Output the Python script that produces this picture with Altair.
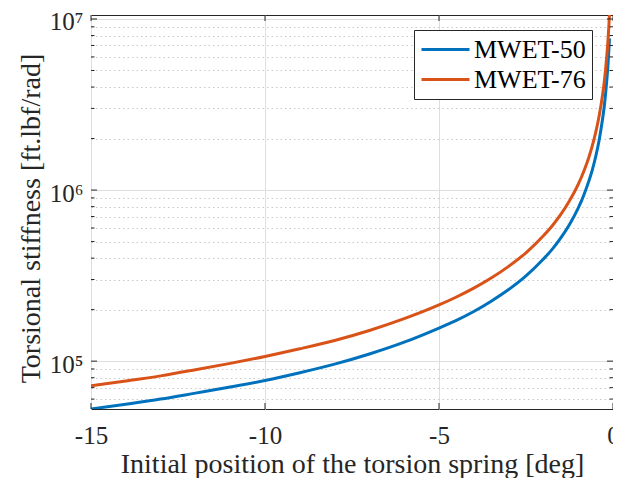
import altair as alt
import pandas as pd

# ---- data ----
theta_50 = [-15, -14, -13, -12, -11, -10, -9, -8, -7, -6, -5, -4.5, -4, -3.5, -3, -2.5,
            -2, -1.75, -1.5, -1.25, -1, -0.9, -0.8, -0.7, -0.6, -0.5, -0.4, -0.3,
            -0.25, -0.2, -0.15, -0.12, -0.1]
k_50 = [52500, 56000, 60000, 65000, 70500, 77000, 85500, 96000, 110000, 129000, 156000,
        173000, 195000, 224000, 262000, 315000, 395000, 450000, 525000, 630000, 785000,
        870000, 980000, 1.12e6, 1.30e6, 1.56e6, 1.95e6, 2.6e6, 3.1e6, 3.9e6, 5.2e6,
        6.5e6, 7.7e6]

theta_76 = [-15, -14, -13, -12, -11, -10, -9, -8, -7, -6, -5, -4.5, -4, -3.5, -3, -2.5,
            -2, -1.75, -1.5, -1.25, -1, -0.9, -0.8, -0.7, -0.6, -0.5, -0.4, -0.3,
            -0.25, -0.2, -0.15, -0.12, -0.1, -0.08]
k_76 = [71700, 76500, 82000, 89000, 97000, 106500, 118000, 132000, 151000, 177000, 213000,
        237000, 267000, 306000, 358000, 430000, 540000, 617000, 720000, 865000, 1.08e6,
        1.2e6, 1.35e6, 1.54e6, 1.8e6, 2.16e6, 2.7e6, 3.6e6, 4.3e6, 5.4e6, 7.2e6, 9.0e6,
        1.08e7, 1.35e7]

series_names = ["MWET-50", "MWET-76"]
series_colors = ["#0072BD", "#D95319"]

x_ticks = [-15, -10, -5, 0]
y_major = [1e5, 1e6, 1e7]
y_minor = [6e4, 7e4, 8e4, 9e4,
           2e5, 3e5, 4e5, 5e5, 6e5, 7e5, 8e5, 9e5,
           2e6, 3e6, 4e6, 5e6, 6e6, 7e6, 8e6, 9e6]

x_domain = [-15, 0]
y_domain = [52500, 1.055e7]

W, H = 522, 394
FONT = "Liberation Serif"
INK = "#262626"

df = pd.concat([
    pd.DataFrame({"theta": theta_50, "k": k_50, "series": series_names[0]}),
    pd.DataFrame({"theta": theta_76, "k": k_76, "series": series_names[1]}),
])

xscale = alt.Scale(domain=x_domain, nice=False, zero=False)
yscale = alt.Scale(type="log", domain=y_domain, nice=False)

major_test = "indexof([100000, 1000000, 10000000], datum.value) >= 0"

x_axis = alt.Axis(values=x_ticks, labelExpr="datum.value + ''",
                  title="Initial position of the torsion spring [deg]",
                  grid=True, gridColor="#dedede", gridWidth=1,
                  ticks=False, tickSize=0, domain=False,
                  labelFont=FONT, labelFontSize=25, labelColor=INK,
                  labelFlush=False, labelOverlap=False,
                  labelBaseline="alphabetic", labelPadding=34,
                  titleFont=FONT, titleFontSize=28, titleColor=INK,
                  titleFontWeight="normal", titleBaseline="alphabetic",
                  titleY=63)
y_axis = alt.Axis(values=y_major + y_minor,
                  labelExpr="datum.value == 100000 ? '10\u2075' : datum.value == 1000000 ? '10\u2076' : datum.value == 10000000 ? '10\u2077' : ''",
                  title="Torsional stiffness [ft.lbf/rad]",
                  grid=True,
                  gridColor={"condition": {"test": major_test, "value": "#dedede"}, "value": "#c9c9c9"},
                  gridDash={"condition": {"test": major_test, "value": []}, "value": [1.5, 3]},
                  ticks=False, tickSize=0, domain=False,
                  labelFont=FONT, labelFontSize=25, labelColor=INK,
                  labelFlush=False,
                  labelPadding=8, labelBaseline="middle", labelOffset=3,
                  titleFont=FONT, titleFontSize=28, titleColor=INK,
                  titleFontWeight="normal", titleBaseline="alphabetic",
                  titleX=-52, titleY=203)

lines = alt.Chart(df).mark_line(strokeWidth=3, clip=True, interpolate="monotone").encode(
    x=alt.X("theta:Q", scale=xscale, axis=x_axis),
    y=alt.Y("k:Q", scale=yscale, axis=y_axis),
    color=alt.Color("series:N",
                    scale=alt.Scale(domain=series_names, range=series_colors),
                    legend=alt.Legend(title=None, orient="none", legendX=323, legendY=15,
                                      strokeColor=INK, fillColor="white", padding=6,
                                      symbolType="M-2,0L2,0", symbolSize=576,
                                      symbolStrokeWidth=3, symbolOffset=12,
                                      labelOffset=15, rowPadding=3,
                                      labelFont=FONT, labelFontSize=26, labelColor="black")),
)

ymaj_df = pd.DataFrame({"k": y_major})
ymin_df = pd.DataFrame({"k": y_minor})
xt_df = pd.DataFrame({"theta": x_ticks})

def ytick(data, x0, x1):
    return alt.Chart(data).mark_rule(color=INK, strokeWidth=1).encode(
        y=alt.Y("k:Q", scale=yscale, axis=y_axis),
        x=alt.value(x0), x2=alt.value(x1))

def xtick(y0, y1):
    return alt.Chart(xt_df).mark_rule(color=INK, strokeWidth=1).encode(
        x=alt.X("theta:Q", scale=xscale, axis=x_axis),
        y=alt.value(y0), y2=alt.value(y1))

layers = [
    lines,
    ytick(ymaj_df, 0, 6), ytick(ymaj_df, W - 6, W),
    ytick(ymin_df, 0, 3.5), ytick(ymin_df, W - 3.5, W),
    xtick(H, H - 6), xtick(0, 6),
]

chart = alt.layer(*layers).properties(
    width=W, height=H,
    autosize=alt.AutoSizeParams(type="none"),
    padding={"left": 83, "top": 7, "right": 0, "bottom": 69},
).configure_view(stroke=INK, strokeWidth=1)

chart.save("out.html", embed_options={"renderer": "svg", "actions": False})
